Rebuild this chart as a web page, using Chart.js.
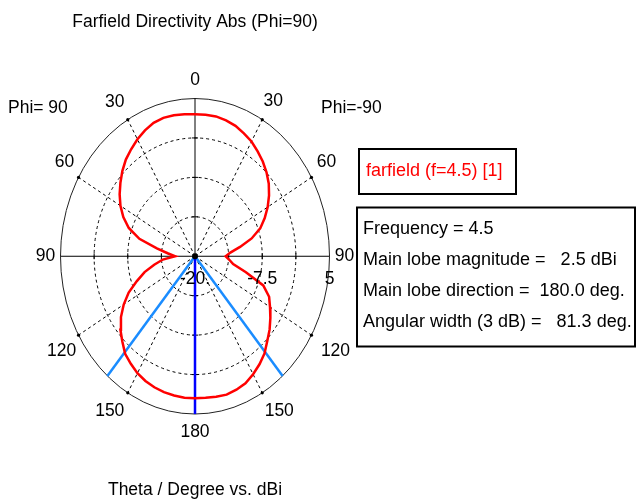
<!DOCTYPE html>
<html>
<head>
<meta charset="utf-8">
<script src="https://cdn.jsdelivr.net/npm/chart.js@4"></script>
<style>
html,body{margin:0;padding:0;background:#fff;}
#wrap{position:relative;width:636px;height:500px;}
</style>
</head>
<body>
<div id="wrap"><canvas id="c"></canvas></div>
<script>
// ---- data ----
const thetaDeg  = [0,5,10,15,20,25,30,35,40,45,50,55,60,65,70,75,80,85,90,95,100,105,110,115,120,125,130,135,140,145,150,155,160,165,170,175,180];
const dbiPhiM90 = [2.5,2.5,2.5,2.3,2.0,1.5,1.0,0.3,-0.4,-1.2,-2.1,-3.2,-4.4,-5.7,-7.1,-9.1,-11.5,-13.4,-14.3,-13.6,-12.8,-10.2,-6.5,-4.8,-3.9,-2.9,-1.9,-1.0,0.1,0.9,1.6,2.2,2.5,2.7,2.6,2.5,2.5]; // right side (Phi=-90)
const dbiPhi90  = [2.5,2.6,2.7,2.7,2.5,2.0,1.4,0.7,0.0,-0.9,-1.9,-2.9,-4.0,-5.3,-6.9,-9.3,-12.8,-15.0,-16.3,-14.0,-12.3,-10.3,-8.5,-6.4,-4.7,-3.2,-1.9,-0.9,0.2,0.8,1.4,1.8,2.1,2.3,2.4,2.5,2.5];  // left side (Phi=90)
const radialTicks = [-20, -7.5, 5];
const radialTickLabels = ["-20.", "-7.5", "5"];
const angleTicks = [0,30,60,90,120,150,180];
const mainLobeDir = [180];
const angularWidth = [81.3];
const infoLines = ["Frequency = 4.5","Main lobe magnitude =   2.5 dBi","Main lobe direction =  180.0 deg.","Angular width (3 dB) =   81.3 deg."];
const legendLabel = "farfield (f=4.5) [1]";
const titleText = "Farfield Directivity Abs (Phi=90)";
const axisText = "Theta / Degree vs. dBi";

const rMin = radialTicks[0], rMax = radialTicks[radialTicks.length-1];
const rad = d => d*Math.PI/180;
function toXY(thetaD, db, side){ // side: +1 right, -1 left
  const r = Math.max(0,(db - rMin)/(rMax - rMin));
  return {x: side*r*Math.sin(rad(thetaD)), y: r*Math.cos(rad(thetaD))};
}
const pattern = [];
thetaDeg.forEach((t,i)=>pattern.push(toXY(t, dbiPhiM90[i], 1)));
for(let i=thetaDeg.length-1;i>=0;i--) pattern.push(toXY(thetaDeg[i], dbiPhi90[i], -1));

const dir = mainLobeDir[0], hw = angularWidth[0]/2;
const mainLine = [{x:0,y:0}, toXY(dir, rMax, 1)];
const bw1 = [{x:0,y:0}, toXY(dir-hw, rMax, 1)];
const bw2 = [{x:0,y:0}, toXY(dir-hw, rMax, -1)];

const FONT = '"Liberation Sans", Arial, sans-serif';
const FS = '17.5px ';

const polarGrid = {
  id:'polarGrid',
  beforeDatasetsDraw(chart){
    const {ctx, scales:{x, y}} = chart;
    const px = v=>x.getPixelForValue(v), py = v=>y.getPixelForValue(v);
    const cx = px(0), cy = py(0), rx = px(1)-cx, ry = cy-py(1);
    ctx.save();
    ctx.strokeStyle = '#000';
    ctx.lineWidth = 1;
    ctx.setLineDash([3,3]);
    [0.25,0.5,0.75].forEach(f=>{
      ctx.beginPath(); ctx.ellipse(cx,cy,rx*f,ry*f,0,0,Math.PI*2); ctx.stroke();
    });
    [30,60,120,150].forEach(a=>{
      [1,-1].forEach(s=>{
        ctx.beginPath(); ctx.moveTo(cx,cy);
        ctx.lineTo(cx+s*rx*Math.sin(rad(a)), cy-ry*Math.cos(rad(a))); ctx.stroke();
      });
    });
    ctx.setLineDash([]);
    ctx.strokeStyle = '#222';
    ctx.beginPath(); ctx.ellipse(cx,cy,rx,ry,0,0,Math.PI*2); ctx.stroke();
    ctx.strokeStyle = '#000';
    ctx.beginPath(); ctx.moveTo(cx-rx,cy); ctx.lineTo(cx+rx,cy); ctx.stroke();
    ctx.beginPath(); ctx.moveTo(cx,cy-ry); ctx.lineTo(cx,cy+ry); ctx.stroke();
    [0.25,0.5,0.75].forEach(f=>{
      [1,-1].forEach(s=>{
        ctx.beginPath(); ctx.moveTo(cx+s*rx*f,cy-3); ctx.lineTo(cx+s*rx*f,cy+3); ctx.stroke();
        ctx.beginPath(); ctx.moveTo(cx-3,cy+s*ry*f); ctx.lineTo(cx+3,cy+s*ry*f); ctx.stroke();
      });
    });
    ctx.fillStyle='#000';
    [30,60,120,150].forEach(a=>{
      [1,-1].forEach(s=>{
        ctx.beginPath(); ctx.arc(cx+s*rx*Math.sin(rad(a)), cy-ry*Math.cos(rad(a)),1.6,0,Math.PI*2); ctx.fill();
      });
    });
    ctx.restore();
  },
  afterDraw(chart){
    const {ctx, scales:{x, y}} = chart;
    const px = v=>x.getPixelForValue(v), py = v=>y.getPixelForValue(v);
    const cx = px(0), cy = py(0), rx = px(1)-cx, ry = cy-py(1);
    ctx.save();
    ctx.fillStyle='#000';
    ctx.beginPath(); ctx.arc(cx,cy,3,0,Math.PI*2); ctx.fill();
    ctx.font = FS+FONT;
    ctx.fillStyle = '#000';
    ctx.textAlign='center'; ctx.textBaseline='middle';
    const offsR = {0:[0,-18],30:[11,-18],60:[15,-15],90:[15,0],120:[24,16],150:[17,18],180:[0,18]};
    const offsL = {30:[13,-17],60:[14,-15],90:[15,0],120:[17,16],150:[18,18]};
    angleTicks.forEach(a=>{
      const sides = (a===0||a===180)?[1]:[1,-1];
      sides.forEach(s=>{
        const ex = cx+s*rx*Math.sin(rad(a)), ey = cy-ry*Math.cos(rad(a));
        const o = s>0 ? offsR[a] : offsL[a];
        ctx.fillText(String(a), ex+s*o[0], ey+o[1]);
      });
    });
    radialTicks.forEach((v,i)=>{
      const f=(v-rMin)/(rMax-rMin);
      ctx.fillText(radialTickLabels[i], cx+rx*f, cy+23);
    });
    ctx.fillText(titleText, cx, 22);
    ctx.fillText(axisText, cx, 490);
    ctx.textAlign='left';
    ctx.fillText("Phi= 90", 8, 108);
    ctx.fillText("Phi=-90", 321, 108);
    ctx.lineWidth=2; ctx.strokeStyle='#000';
    ctx.strokeRect(359,149,157,45);
    ctx.fillStyle='#ff0000';
    ctx.font = '18px '+FONT;
    ctx.fillText(legendLabel, 366, 171);
    ctx.strokeRect(357,207.5,278,139);
    ctx.fillStyle='#000';
    infoLines.forEach((t,i)=>ctx.fillText(t, 363, 229+i*31));
    ctx.restore();
  }
};

new Chart(document.getElementById('c'), {
  type:'scatter',
  data:{datasets:[
    {label:'main lobe direction', data:mainLine, showLine:true, borderColor:'#0000ff', borderWidth:2.5, pointRadius:0, clip:false, order:2},
    {label:'3 dB width a', data:bw1, showLine:true, borderColor:'#1a8cff', borderWidth:2.5, pointRadius:0, clip:false, order:3},
    {label:'3 dB width b', data:bw2, showLine:true, borderColor:'#1a8cff', borderWidth:2.5, pointRadius:0, clip:false, order:3},
    {label:legendLabel, data:pattern, showLine:true, borderColor:'#ff0000', borderWidth:2.5, pointRadius:0, tension:0, clip:false, order:1}
  ]},
  options:{
    responsive:true, maintainAspectRatio:false, animation:false,
    layout:{padding:{left:60.5, right:306.5, top:98.5, bottom:86}},
    scales:{
      x:{type:'linear', min:-1, max:1, display:false},
      y:{type:'linear', min:-1, max:1, display:false}
    },
    plugins:{legend:{display:false}, tooltip:{enabled:false}, title:{display:false}}
  },
  plugins:[polarGrid]
});
</script>
</body>
</html>
